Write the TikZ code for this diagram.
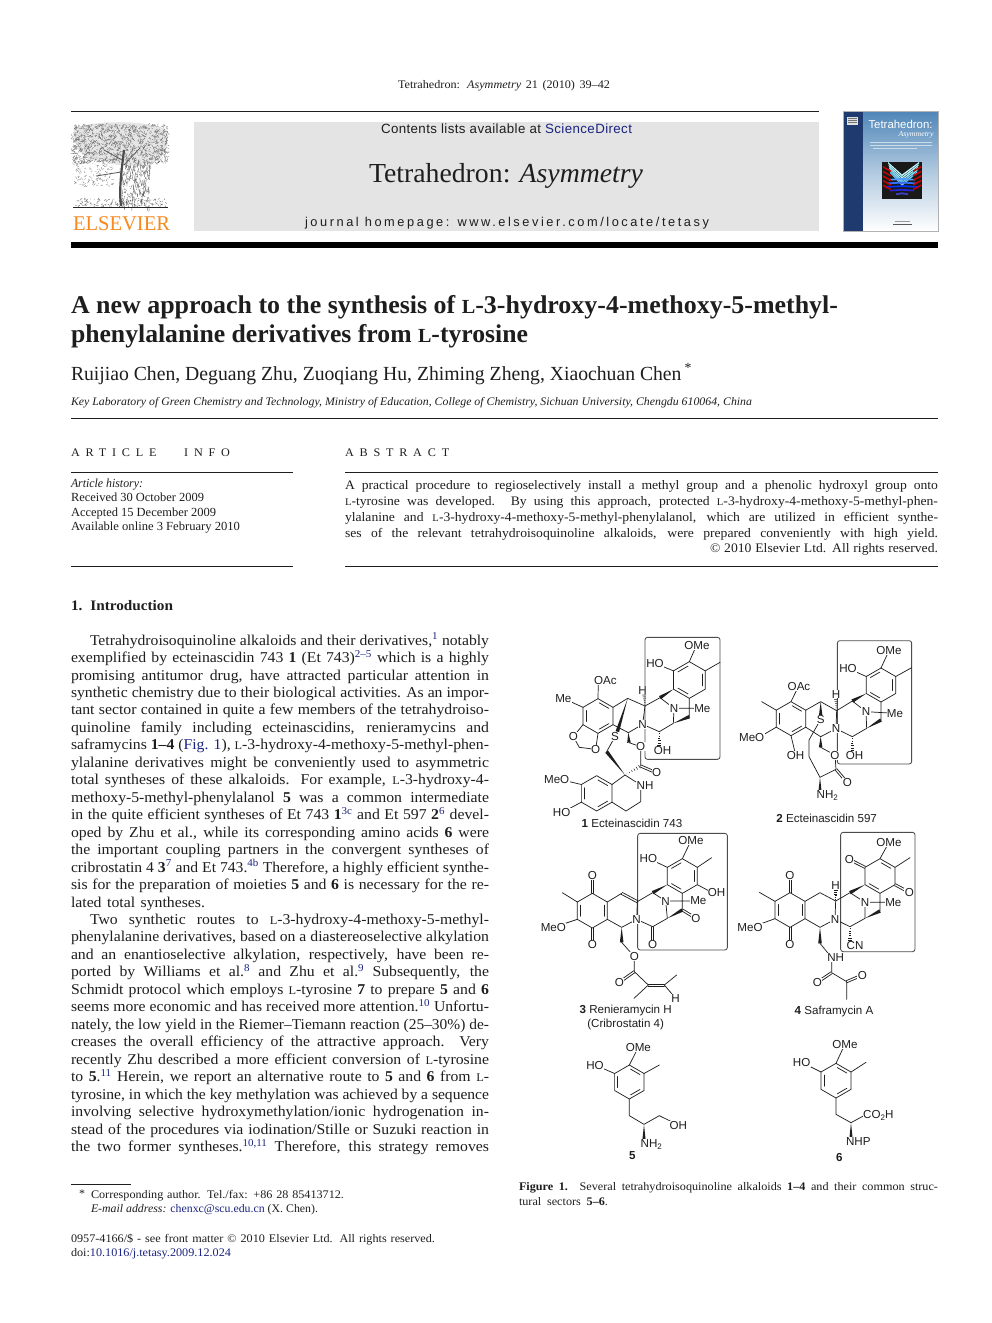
\documentclass[tikz,border=0pt]{standalone}
\usepackage{fontspec}
\usepackage{graphicx}
\setmainfont[FakeStretch=1.05]{Liberation Serif}
\setsansfont{Liberation Sans}
\usetikzlibrary{calc}
\definecolor{linkb}{HTML}{1B2480}
\definecolor{sdblue}{HTML}{1B2480}
\definecolor{ink}{HTML}{1E1E1E}
\definecolor{panel}{HTML}{E4E4E4}
\definecolor{elsorange}{HTML}{F58A1F}
\definecolor{covdark}{HTML}{1F3A6E}
\definecolor{covblue}{HTML}{4F86B8}
\newcommand\bodyf{\fontsize{15}{17}\selectfont}
\newcommand\smf{\fontsize{11.6}{14}\selectfont}
\newcommand\absf{\fontsize{13}{15}\selectfont}
\newcommand\lbf{\sffamily\fontsize{11.6}{12}\selectfont}
\newsavebox\lnbox
\newcommand\fitline[3]{\sbox\lnbox{#1#3}\ifdim\wd\lnbox<#2pt\relax\makebox[#2pt][s]{#1#3}\else\resizebox{#2pt}{\height}{\usebox\lnbox}\fi}
\newcount\tln
\newcommand\jl[5][\bodyf]{\global\advance\tln by 1 \node[txt] (t\the\tln) at (#2,#3) {\fitline{#1}{#4}{#5}};}
\newcommand\lc{\scalebox{.78}{L}}
\newcommand\sr[1]{\textsuperscript{\color{linkb}#1}}
\newcommand\lk[1]{{\color{linkb}#1}}
% chemistry helpers
\newcommand\hexa[4]{\coordinate (#1c) at (#2,#3);
 \foreach \i/\a in {1/0,2/60,3/120,4/180,5/240,6/300}{\coordinate (#1\i) at ({#2+#4*sin(\a)},{#3-#4*cos(\a)});}
 \draw[bd] (#11)--(#12)--(#13)--(#14)--(#15)--(#16)--cycle;}
\newcommand\inb[3]{\draw[bd] ($(#1c)!.8!(#1#2)!.1!($(#1c)!.8!(#1#3)$)$) -- ($(#1c)!.8!(#1#3)!.1!($(#1c)!.8!(#1#2)$)$);}
\newcommand\wdg[2]{\fill[ink] (#1) -- ($(#2)!1.8pt!90:(#1)$) -- ($(#2)!1.8pt!-90:(#1)$) -- cycle;}
\newcommand\hsh[2]{\foreach \t in {.12,.28,.44,.6,.76,.92}{\coordinate (pp) at ($(#1)!\t!(#2)$);
 \draw[ink,line width=.5pt] ($(pp)!{\t*2pt}!90:(#2)$) -- ($(pp)!{\t*2pt}!-90:(#2)$);}}
\newcommand\dbl[2]{\draw[bd] ($(#1)!1.1pt!90:(#2)$) -- ($(#2)!1.1pt!-90:(#1)$); \draw[bd] ($(#1)!1.1pt!-90:(#2)$) -- ($(#2)!1.1pt!90:(#1)$);}
\newcommand\subt{\raisebox{-2pt}{\fontsize{8}{8}\selectfont 2}}
\begin{document}
\begin{tikzpicture}[x=1pt,y=-1pt,
 txt/.style={anchor=base west,inner sep=0pt,outer sep=0pt,text=ink},
 rule/.style={draw=ink,line width=.6pt},
 bd/.style={draw=ink,line width=.72pt,line cap=round,line join=round},
 lab/.style={font=\lbf,fill=white,inner sep=.4pt,text=ink},
 capt/.style={font=\lbf,inner sep=0pt,text=ink},
 sbox/.style={draw=black!70,line width=.85pt,rounded corners=2.5pt}]
\useasboundingbox (0,0) rectangle (992,1323);
\fill[white] (0,0) rectangle (992,1323);

% ---------- running head
\jl[\smf]{398}{88}{212}{Tetrahedron: \textit{Asymmetry} 21 (2010) 39–42}
\draw[rule] (71,111.5) -- (819,111.5);
\fill[panel] (194,122) rectangle (819,231);
\jl[\sffamily\fontsize{13.4}{15}\selectfont\addfontfeature{LetterSpace=3}]{381}{133.5}{251}{Contents lists available at {\color{sdblue}ScienceDirect}}
\jl[\fontsize{27.5}{30}\selectfont]{369}{182}{274}{Tetrahedron: \textit{Asymmetry}}
\jl[\sffamily\fontsize{12.8}{14}\selectfont\addfontfeature{LetterSpace=20}]{305}{226.5}{404}{journal homepage: www.elsevier.com/locate/tetasy}
\fill[black] (71,242) rectangle (938,247.5);

% ---------- Elsevier tree
\pgfmathsetseed{4242}
\fill[black!10] (74,128) .. controls (95,120) and (150,120) .. (167,130) .. controls (170,145) and (165,160) .. (150,163) .. controls (130,168) and (110,165) .. (100,160) .. controls (85,160) and (72,150) .. (74,128) -- cycle;
\foreach \i in {1,...,1100}{
 \pgfmathsetmacro{\xx}{72+96*rnd}
 \pgfmathsetmacro{\yy}{124+38*rnd+abs(\xx-120)*0.03}
 \pgfmathsetmacro{\dx}{5*rnd-2.5}
 \pgfmathsetmacro{\dy}{5*rnd-2.5}
 \draw[black!60,line width=.3pt] (\xx,\yy) -- ++(\dx,\dy);}
\foreach \i in {1,...,150}{
 \pgfmathsetmacro{\xx}{74+38*rnd}
 \pgfmathsetmacro{\yy}{160+26*rnd}
 \pgfmathsetmacro{\dx}{5*rnd-2.5}
 \pgfmathsetmacro{\dy}{4*rnd-2}
 \draw[black!55,line width=.3pt] (\xx,\yy) -- ++(\dx,\dy);}
\foreach \i in {1,...,260}{
 \pgfmathsetmacro{\xx}{120+30*rnd}
 \pgfmathsetmacro{\yy}{160+46*rnd}
 \pgfmathsetmacro{\dx}{3*rnd-1.5}
 \pgfmathsetmacro{\dy}{7*rnd-1}
 \draw[black!65,line width=.35pt] (\xx,\yy) -- ++(\dx,\dy);}
\foreach \i in {1,...,170}{
 \pgfmathsetmacro{\xx}{76+90*rnd}
 \pgfmathsetmacro{\yy}{199+7.5*rnd}
 \pgfmathsetmacro{\dx}{4*rnd-2}
 \pgfmathsetmacro{\dy}{3*rnd-1.5}
 \draw[black!65,line width=.35pt] (\xx,\yy) -- ++(\dx,\dy);}
\draw[black!70,line width=2.2pt] (124,150) .. controls (121,175) and (119,190) .. (121,206);
\draw[black!65,line width=.8pt] (122,160) -- (104,150) (124,165) -- (140,148) (121,172) -- (96,176);
\draw[black!85,line width=1.1pt] (73,207.5) -- (168,207.5);
\jl[\fontsize{21}{22}\selectfont\color{elsorange}]{73}{230.5}{97}{ELSEVIER}

% ---------- cover
\shade[top color=covblue,bottom color=white,middle color=covblue!45] (863,111) rectangle (938,231);
\fill[covdark] (843,111) rectangle (863,231);
\draw[black!30,line width=.3pt] (843,111) rectangle (938,231);
\fill[black!12] (847,117) rectangle (858,125);
\draw[black!55,line width=.5pt] (848,118.5)--(857,118.5) (848,120.5)--(857,120.5) (848,122.5)--(857,122.5);
\node[inner sep=0pt,text=white,font=\sffamily\fontsize{11.4}{12}\selectfont] (covt) at (900.5,124.5) {Tetrahedron:};
\node[inner sep=0pt,text=white,font=\itshape\fontsize{7.5}{8}\selectfont] (cova) at (916,135) {Asymmetry};
\draw[white!70!covblue,line width=.4pt] (870,142)--(932,142) (870,145)--(932,145) (873,148)--(917,148);
\fill[black!90] (882,162) rectangle (922,199);
\foreach \k/\c in {0/blue!10!cyan!25!white,1/blue!15!cyan!30!white,2/blue!20!cyan!40!white,3/blue!25!cyan!50!white,4/blue!40!cyan!55}{
 \pgfmathsetmacro{\ya}{162+\k*2.4}
 \pgfmathsetmacro{\yb}{\ya+1.5}
 \pgfmathsetmacro{\ym}{\ya+12.5}
 \fill[\c] (888+\k*.5,\ya) -- (902,\ym) -- (919-\k*.5,\ya) -- (919-\k*.5,\yb) -- (902,\ym+1.7) -- (888+\k*.5,\yb) -- cycle;}
\foreach \k/\c/\w in {0/blue!55!cyan!70/13,1/blue!70!cyan!80/15,2/blue!80!cyan/17,3/blue!80!black!85/12,4/blue!70!black!75/6}{
 \pgfmathsetmacro{\ya}{178+\k*3.6}
 \fill[\c] (902-\w,\ya+1) -- (902,\ya) -- (902+\w,\ya+1) -- (902+\w,\ya+2.6) -- (902,\ya+1.9) -- (902-\w,\ya+2.6) -- cycle;}
\foreach \k in {0,...,4}{
 \pgfmathsetmacro{\ya}{166+\k*4.6}
 \fill[red!80!black] (883,\ya) -- (891,\ya+4.5) -- (891,\ya+6) -- (883,\ya+1.8) -- cycle;
 \fill[red!80!black] (921,\ya) -- (913,\ya+4.5) -- (913,\ya+6) -- (921,\ya+1.8) -- cycle;}
\draw[black!65,line width=.9pt] (893,224)--(912,224);
\draw[black!40,line width=.5pt] (895,221.5)--(910,221.5);

% ---------- title block
\jl[\bfseries\fontsize{25.6}{28}\selectfont]{71}{313}{767}{A new approach to the synthesis of \lc-3-hydroxy-4-methoxy-5-methyl-}
\jl[\bfseries\fontsize{25.6}{28}\selectfont]{71}{342}{457}{phenylalanine derivatives from \lc-tyrosine}
\jl[\fontsize{20}{22}\selectfont]{71}{380}{621}{Ruijiao Chen, Deguang Zhu, Zuoqiang Hu, Zhiming Zheng, Xiaochuan Chen\,\textsuperscript{*}}
\jl[\itshape\fontsize{11.5}{13}\selectfont]{71}{405}{681}{Key Laboratory of Green Chemistry and Technology, Ministry of Education, College of Chemistry, Sichuan University, Chengdu 610064, China}
\draw[rule] (71,418.5) -- (938,418.5);

\jl[\smf\addfontfeature{LetterSpace=50}]{71}{456}{159}{ARTICLE INFO}
\jl[\smf\addfontfeature{LetterSpace=50}]{345}{456}{111}{ABSTRACT}
\draw[rule] (71,472.5) -- (293,472.5);
\draw[rule] (345,472.5) -- (938,472.5);
\jl[\itshape\fontsize{12.4}{14}\selectfont]{71}{487}{72}{Article history:}
\jl[\fontsize{12.4}{14}\selectfont]{71}{501}{133}{Received 30 October 2009}
\jl[\fontsize{12.4}{14}\selectfont]{71}{516}{145}{Accepted 15 December 2009}
\jl[\fontsize{12.4}{14}\selectfont]{71}{530}{169}{Available online 3 February 2010}

\jl[\absf]{345}{489}{593}{A practical procedure to regioselectively install a methyl group and a phenolic hydroxyl group onto}
\jl[\absf]{345}{505}{593}{\lc-tyrosine was developed. By using this approach, protected \lc-3-hydroxy-4-methoxy-5-methyl-phen-}
\jl[\absf]{345}{521}{593}{ylalanine and \lc-3-hydroxy-4-methoxy-5-methyl-phenylalanol, which are utilized in efficient synthe-}
\jl[\absf]{345}{537}{593}{ses of the relevant tetrahydroisoquinoline alkaloids, were prepared conveniently with high yield.}
\jl[\absf]{710}{552.5}{228}{© 2010 Elsevier Ltd. All rights reserved.}
\draw[rule] (71,566) -- (293,566);
\draw[rule] (345,566) -- (938,566);

\jl[\bfseries\fontsize{14.5}{17}\selectfont]{71}{610}{102}{1. Introduction}

% ---------- body column
\jl{90}{645}{399}{Tetrahydroisoquinoline alkaloids and their derivatives,\sr{1} notably}
\jl{71}{662.5}{418}{exemplified by ecteinascidin 743 \textbf{1} (Et 743)\sr{2–5} which is a highly}
\jl{71}{680}{418}{promising antitumor drug, have attracted particular attention in}
\jl{71}{697.4}{418}{synthetic chemistry due to their biological activities. As an impor-}
\jl{71}{714.9}{418}{tant sector contained in quite a few members of the tetrahydroiso-}
\jl{71}{732.3}{418}{quinoline family including ecteinascidins, renieramycins and}
\jl{71}{749.8}{418}{saframycins \textbf{1–4} (\lk{Fig. 1}), \lc-3-hydroxy-4-methoxy-5-methyl-phen-}
\jl{71}{767.2}{418}{ylalanine derivatives might be conveniently used to asymmetric}
\jl{71}{784.7}{418}{total syntheses of these alkaloids. For example, \lc-3-hydroxy-4-}
\jl{71}{802.2}{418}{methoxy-5-methyl-phenylalanol \textbf{5} was a common intermediate}
\jl{71}{819.7}{418}{in the quite efficient syntheses of Et 743 \textbf{1}\sr{3c} and Et 597 \textbf{2}\sr{6} devel-}
\jl{71}{837.1}{418}{oped by Zhu et al., while its corresponding amino acids \textbf{6} were}
\jl{71}{854.6}{418}{the important coupling partners in the convergent syntheses of}
\jl{71}{872}{418}{cribrostatin 4 \textbf{3}\sr{7} and Et 743.\sr{4b} Therefore, a highly efficient synthe-}
\jl{71}{889.5}{418}{sis for the preparation of moieties \textbf{5} and \textbf{6} is necessary for the re-}
\jl{71}{907}{134}{lated total syntheses.}
\jl{90}{924.4}{399}{Two synthetic routes to \lc-3-hydroxy-4-methoxy-5-methyl-}
\jl{71}{941.9}{418}{phenylalanine derivatives, based on a diastereoselective alkylation}
\jl{71}{959.3}{418}{and an enantioselective alkylation, respectively, have been re-}
\jl{71}{976.8}{418}{ported by Williams et al.\sr{8} and Zhu et al.\sr{9} Subsequently, the}
\jl{71}{994.2}{418}{Schmidt protocol which employs \lc-tyrosine \textbf{7} to prepare \textbf{5} and \textbf{6}}
\jl{71}{1011.7}{418}{seems more economic and has received more attention.\sr{10} Unfortu-}
\jl{71}{1029.2}{418}{nately, the low yield in the Riemer–Tiemann reaction (25–30\%) de-}
\jl{71}{1046.6}{418}{creases the overall efficiency of the attractive approach. Very}
\jl{71}{1064.1}{418}{recently Zhu described a more efficient conversion of \lc-tyrosine}
\jl{71}{1081.6}{418}{to \textbf{5}.\sr{11} Herein, we report an alternative route to \textbf{5} and \textbf{6} from \lc-}
\jl{71}{1099}{418}{tyrosine, in which the key methylation was achieved by a sequence}
\jl{71}{1116.5}{418}{involving selective hydroxymethylation/ionic hydrogenation in-}
\jl{71}{1134}{418}{stead of the procedures via iodination/Stille or Suzuki reaction in}
\jl{71}{1151.5}{418}{the two former syntheses.\sr{10,11} Therefore, this strategy removes}

% ---------- footnotes
\draw[rule] (71,1184) -- (131,1184);
\jl[\smf]{79}{1197}{6}{*}
\jl[\smf]{91}{1198}{253}{Corresponding author. Tel./fax: +86 28 85413712.}
\jl[\smf]{91}{1212}{227}{\textit{E-mail address:} \lk{chenxc@scu.edu.cn} (X. Chen).}
\jl[\smf]{71}{1242}{364}{0957-4166/\$ - see front matter © 2010 Elsevier Ltd. All rights reserved.}
\jl[\smf]{71}{1256}{165}{doi:\lk{10.1016/j.tetasy.2009.12.024}}
\jl[\smf]{519}{1190}{419}{\textbf{Figure 1.} Several tetrahydroisoquinoline alkaloids \textbf{1–4} and their common struc-}
\jl[\smf]{519}{1205}{89}{tural sectors \textbf{5–6}.}

% ---------- molecule 1
\begin{scope}[shift={(530,630)},x=.33333pt,y=-.33333pt]
\draw[sbox] (345,22) rectangle (570,388);
\hexa{a}{478}{150}{55} \inb{a}{6}{1} \inb{a}{2}{3} \inb{a}{4}{5}
\hexa{b}{204}{258}{52} \inb{b}{1}{2} \inb{b}{5}{6} \inb{b}{3}{4}
\hexa{e}{200}{490}{53} \inb{e}{1}{2} \inb{e}{5}{6} \inb{e}{3}{4}
\draw[bd] (a1)--(500,45) (a6)--(375,100) (a2)--(570,97);
\wdg{a5}{390,203}
\draw[bd] (390,203)--(345,228) (345,228)--(338,283) (390,203)--(432,235) (432,235)--(520,235)
 (a4)--(478,260) (432,235)--(430,280) (430,280)--(388,305) (388,305)--(338,283);
\wdg{430,280}{478,260}
\hsh{345,228}{342,192}
\hsh{388,305}{388,350}
\draw[bd] (b1)--(205,152) (b6)--(100,205) (b2)--(293,205) (293,205)--(345,228)
 (b3)--(295,308) (295,308)--(338,283);
\wdg{293,205}{262,305}
\wdg{295,308}{297,338}
\draw[bd] (297,338)--(332,350) (b5)--(130,320) (130,320)--(148,352) (148,352)--(197,358) (197,358)--(b4);
\draw[bd] (255,320)--(230,365);
\wdg{285,435}{230,365}
\draw[bd] (332,350)--(332,408) (285,435)--(332,465) (332,465)--(332,515) (332,515)--(288,543) (288,543)--(e3) (e2)--(285,435)
 (e6)--(85,447) (e5)--(95,548);
\dbl{332,408}{378,428}
\hsh{285,435}{332,408}
\node[lab] (m1a) at (501,47) {OMe};
\node[lab] (m1b) at (375,100) {HO};
\node[lab] (m1c) at (338,180) {H};
\node[lab] (m1d) at (432,235) {N};
\node[lab] (m1e) at (517,235) {Me};
\node[lab] (m1f) at (338,283) {N};
\node[lab] (m1g) at (398,361) {OH};
\node[lab] (m1h) at (226,152) {OAc};
\node[lab] (m1i) at (100,205) {Me};
\node[lab] (m1j) at (130,320) {O};
\node[lab] (m1k) at (197,358) {O};
\node[lab] (m1l) at (255,320) {S};
\node[lab] (m1m) at (332,350) {O};
\node[lab] (m1n) at (380,428) {O};
\node[lab] (m1o) at (345,466) {NH};
\node[lab] (m1p) at (80,447) {MeO};
\node[lab] (m1q) at (95,548) {HO};
\node[capt] (m1r) at (306,579) {\textbf{1} Ecteinascidin 743};
\end{scope}

% ---------- molecule 2
\begin{scope}[shift={(730,630)},x=.33333pt,y=-.33333pt]
\draw[sbox] (322,32) rectangle (545,402);
\hexa{a}{453}{165}{51} \inb{a}{6}{1} \inb{a}{2}{3} \inb{a}{4}{5}
\hexa{b}{183}{266}{51} \inb{b}{1}{2} \inb{b}{5}{6} \inb{b}{3}{4}
\draw[bd] (a1)--(477,62) (a6)--(354,115) (a2)--(545,113);
\wdg{a5}{367,213}
\draw[bd] (367,213)--(320,242) (320,242)--(318,296) (367,213)--(408,245) (408,245)--(495,250)
 (a4)--(453,270) (408,245)--(410,295) (410,295)--(367,320) (367,320)--(318,296);
\wdg{410,295}{453,270}
\hsh{320,242}{318,205}
\hsh{367,320}{367,365}
\draw[bd] (b1)--(205,170) (b6)--(95,215) (b5)--(85,323) (b4)--(197,375) (b2)--(272,215) (272,215)--(320,242)
 (b3)--(272,320) (272,320)--(318,296);
\wdg{272,215}{272,258}
\wdg{272,320}{272,352}
\draw[bd] (272,352)--(315,375) (272,268)--(237,330)--(237,380)--(270,442)--(318,418)--(315,375);
\dbl{318,418}{352,458}
\wdg{270,442}{270,490}
\node[lab] (m2a) at (477,62) {OMe};
\node[lab] (m2b) at (354,115) {HO};
\node[lab] (m2c) at (318,192) {H};
\node[lab] (m2d) at (408,245) {N};
\node[lab] (m2e) at (495,250) {Me};
\node[lab] (m2f) at (318,296) {N};
\node[lab] (m2g) at (374,375) {OH};
\node[lab] (m2h) at (207,170) {OAc};
\node[lab] (m2i) at (65,323) {MeO};
\node[lab] (m2j) at (197,375) {OH};
\node[lab] (m2k) at (272,268) {S};
\node[lab] (m2l) at (315,375) {O};
\node[lab] (m2m) at (352,458) {O};
\node[lab] (m2n) at (292,497) {NH\subt};
\node[capt] (m2o) at (290,565) {\textbf{2} Ecteinascidin 597};
\end{scope}

% ---------- molecule 3
\begin{scope}[shift={(530,825)},x=.33333pt,y=-.33333pt]
\draw[sbox] (323,25) rectangle (592,375);
\hexa{a}{457}{153}{52} \inb{a}{6}{1} \inb{a}{2}{3} \inb{a}{4}{5}
\hexa{b}{187}{257}{52} \inb{b}{5}{6} \inb{b}{2}{3}
\draw[bd] (a1)--(483,47) (a6)--(355,100) (a2)--(545,98) (a3)--(545,202);
\wdg{a5}{368,203}
\draw[bd] (368,203)--(322,230) (322,230)--(320,283) (368,203)--(407,228) (407,228)--(505,228)
 (a4)--(457,255) (407,228)--(412,280) (412,280)--(368,305) (368,305)--(320,283);
\wdg{412,280}{457,255}
\dbl{368,305}{368,355}
\dbl{457,255}{498,280}
\dbl{322,230}{275,205}
\draw[bd] (275,205)--(b2) (b3)--(275,307) (275,307)--(320,283) (b6)--(97,203) (b5)--(70,307);
\dbl{b1}{187,152}
\dbl{b4}{187,355}
\wdg{275,307}{275,352}
\draw[bd] (275,352)--(313,395) (313,395)--(313,440) (313,440)--(355,480) (403,480)--(440,450) (403,480)--(437,520) (355,480)--(312,520);
\dbl{313,440}{268,472}
\dbl{355,480}{403,480}
\node[lab] (m3a) at (483,47) {OMe};
\node[lab] (m3b) at (355,100) {HO};
\node[lab] (m3c) at (407,228) {N};
\node[lab] (m3d) at (505,228) {Me};
\node[lab] (m3e) at (560,202) {OH};
\node[lab] (m3f) at (498,281) {O};
\node[lab] (m3g) at (368,357) {O};
\node[lab] (m3h) at (320,283) {N};
\node[lab] (m3i) at (187,152) {O};
\node[lab] (m3j) at (187,357) {O};
\node[lab] (m3k) at (70,307) {MeO};
\node[lab] (m3l) at (313,395) {O};
\node[lab] (m3m) at (268,473) {O};
\node[lab] (m3n) at (437,520) {H};
\node[capt] (m3o) at (287,555) {\textbf{3} Renieramycin H};
\node[capt] (m3p) at (287,597) {(Cribrostatin 4)};
\end{scope}

% ---------- molecule 4
\begin{scope}[shift={(730,825)},x=.33333pt,y=-.33333pt]
\draw[sbox] (332,22) rectangle (555,380);
\hexa{a}{450}{153}{52} \inb{a}{1}{2} \inb{a}{4}{5}
\hexa{b}{180}{255}{52} \inb{b}{5}{6} \inb{b}{2}{3}
\draw[bd] (a1)--(477,52) (a2)--(540,98);
\dbl{a6}{358,103}
\dbl{a3}{538,202}
\wdg{a5}{360,203}
\draw[bd] (360,203)--(317,228) (317,228)--(315,283) (360,203)--(405,232) (405,232)--(490,232)
 (a4)--(450,258) (405,232)--(405,280) (405,280)--(360,305) (360,305)--(315,283);
\wdg{405,280}{450,258}
\hsh{317,228}{317,192}
\hsh{360,305}{360,350}
\draw[bd] (b2)--(270,203) (270,203)--(317,228) (b3)--(270,307) (270,307)--(315,283) (b6)--(88,202) (b5)--(60,308);
\dbl{b1}{180,152}
\dbl{b4}{180,358}
\wdg{270,307}{270,355}
\draw[bd] (270,355)--(305,398) (305,398)--(305,443) (305,443)--(350,470) (350,470)--(350,523);
\dbl{305,443}{262,472}
\dbl{350,470}{397,450}
\node[lab] (m4a) at (477,52) {OMe};
\node[lab] (m4b) at (358,103) {O};
\node[lab] (m4c) at (538,203) {O};
\node[lab] (m4d) at (317,180) {H};
\node[lab] (m4e) at (405,232) {N};
\node[lab] (m4f) at (490,232) {Me};
\node[lab] (m4g) at (315,283) {N};
\node[lab] (m4h) at (375,362) {CN};
\node[lab] (m4i) at (180,152) {O};
\node[lab] (m4j) at (180,358) {O};
\node[lab] (m4k) at (60,308) {MeO};
\node[lab] (m4l) at (317,398) {NH};
\node[lab] (m4m) at (262,473) {O};
\node[lab] (m4n) at (397,450) {O};
\node[capt] (m4o) at (312,560) {\textbf{4} Saframycin A};
\end{scope}

% ---------- molecules 5 and 6
\begin{scope}[shift={(560,1030)},x=.33333pt,y=-.33333pt]
\hexa{a}{208}{156}{51} \inb{a}{5}{6} \inb{a}{1}{2} \inb{a}{3}{4}
\draw[bd] (a1)--(235,52) (a6)--(105,105) (a2)--(298,105) (a4)--(208,257)--(252,283)--(298,257)--(355,285);
\wdg{252,283}{252,335}
\node[lab] (m5a) at (235,52) {OMe};
\node[lab] (m5b) at (105,105) {HO};
\node[lab] (m5c) at (355,285) {OH};
\node[lab] (m5d) at (274,342) {NH\subt};
\node[capt] (m5e) at (217,378) {\textbf{5}};
\hexa{c}{828}{152}{52} \inb{c}{5}{6} \inb{c}{1}{2} \inb{c}{3}{4}
\draw[bd] (c1)--(855,42) (c6)--(725,97) (c2)--(918,97) (c4)--(828,253)--(873,278)--(910,258);
\wdg{873,278}{873,330}
\node[lab] (m6a) at (855,42) {OMe};
\node[lab] (m6b) at (725,97) {HO};
\node[lab] (m6c) at (955,257) {CO\subt H};
\node[lab] (m6d) at (895,335) {NHP};
\node[capt] (m6e) at (838,382) {\textbf{6}};
\end{scope}
\end{tikzpicture}
\end{document}
